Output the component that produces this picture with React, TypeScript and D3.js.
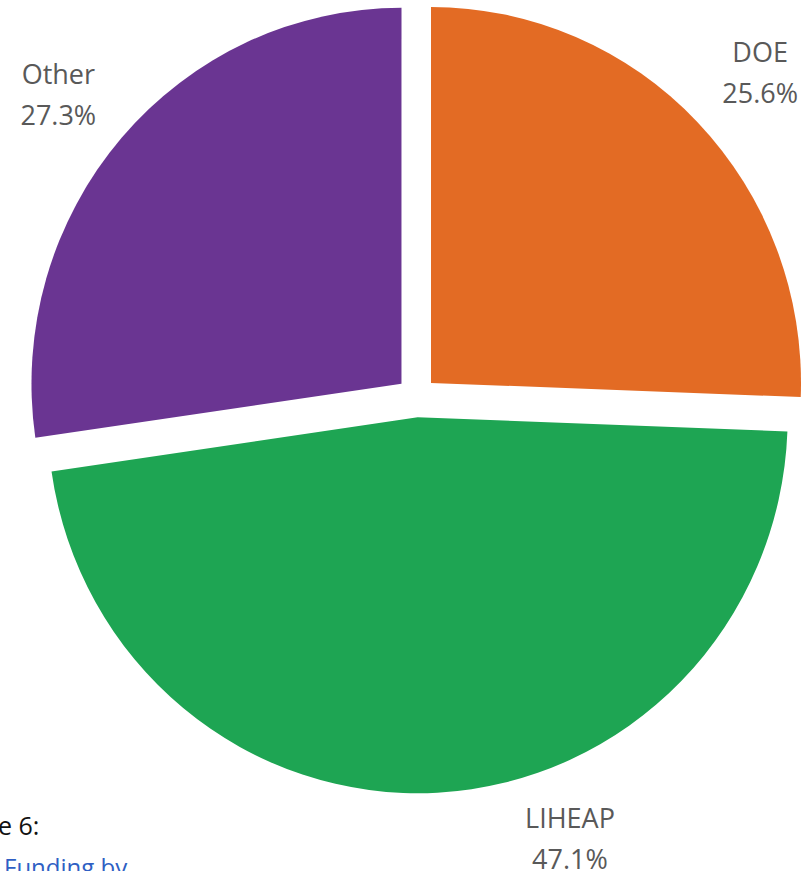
import * as d3 from "d3";

// slice data, clockwise from 12 o'clock
const categories = ["DOE", "LIHEAP", "Other"];
const shares = [25.6, 47.1, 27.3];
const colors = ["#E36B24", "#1EA553", "#6A3592"];

// label placement around the pie (degrees clockwise from top, distance from centre)
const labelAngles = [47.5, 161.2, 309.3];
const labelDist = [466, 476, 463];

export default function App() {
  const width = 809;
  const height = 871;
  const cx = 416.6;
  const cy = 397;
  const radius = 370;
  const explode = 20;

  const pie = d3
    .pie<number>()
    .sort(null)
    .value((d) => d);
  const arcs = pie(shares);
  const arc = d3.arc<d3.PieArcDatum<number>>().innerRadius(0).outerRadius(radius);

  return (
    <svg
      width={width}
      height={height}
      style={{ position: "absolute", left: 0, top: 0, background: "#fff" }}
    >
      <g transform={`translate(${cx},${cy}) scale(1,1.016)`}>
        {arcs.map((a, i) => {
          const mid = (a.startAngle + a.endAngle) / 2;
          const dx = Math.sin(mid) * explode;
          const dy = -Math.cos(mid) * explode;
          return (
            <path
              key={categories[i]}
              d={arc(a) ?? ""}
              transform={`translate(${dx},${dy})`}
              fill={colors[i]}
            />
          );
        })}
      </g>
      <g
        transform={`translate(${cx},${cy})`}
        fontFamily="'Open Sans', sans-serif"
        fontSize={27}
        fill="#595959"
        textAnchor="middle"
      >
        {arcs.map((a, i) => {
          const t = (labelAngles[i] * Math.PI) / 180;
          const x = Math.sin(t) * labelDist[i];
          const y = -Math.cos(t) * labelDist[i];
          return (
            <text key={categories[i]}>
              <tspan x={x} y={y - 20}>
                {categories[i]}
              </tspan>
              <tspan x={x} y={y + 21}>
                {d3.format(".1f")(shares[i])}%
              </tspan>
            </text>
          );
        })}
      </g>
      <text x={-2} y={835} fontFamily="'Open Sans', sans-serif" fontSize={25} fill="#111">
        e 6:
      </text>
      <text x={4} y={876} fontFamily="'Open Sans', sans-serif" fontSize={24} fill="#2F5FC4">
        Funding by
      </text>
    </svg>
  );
}
